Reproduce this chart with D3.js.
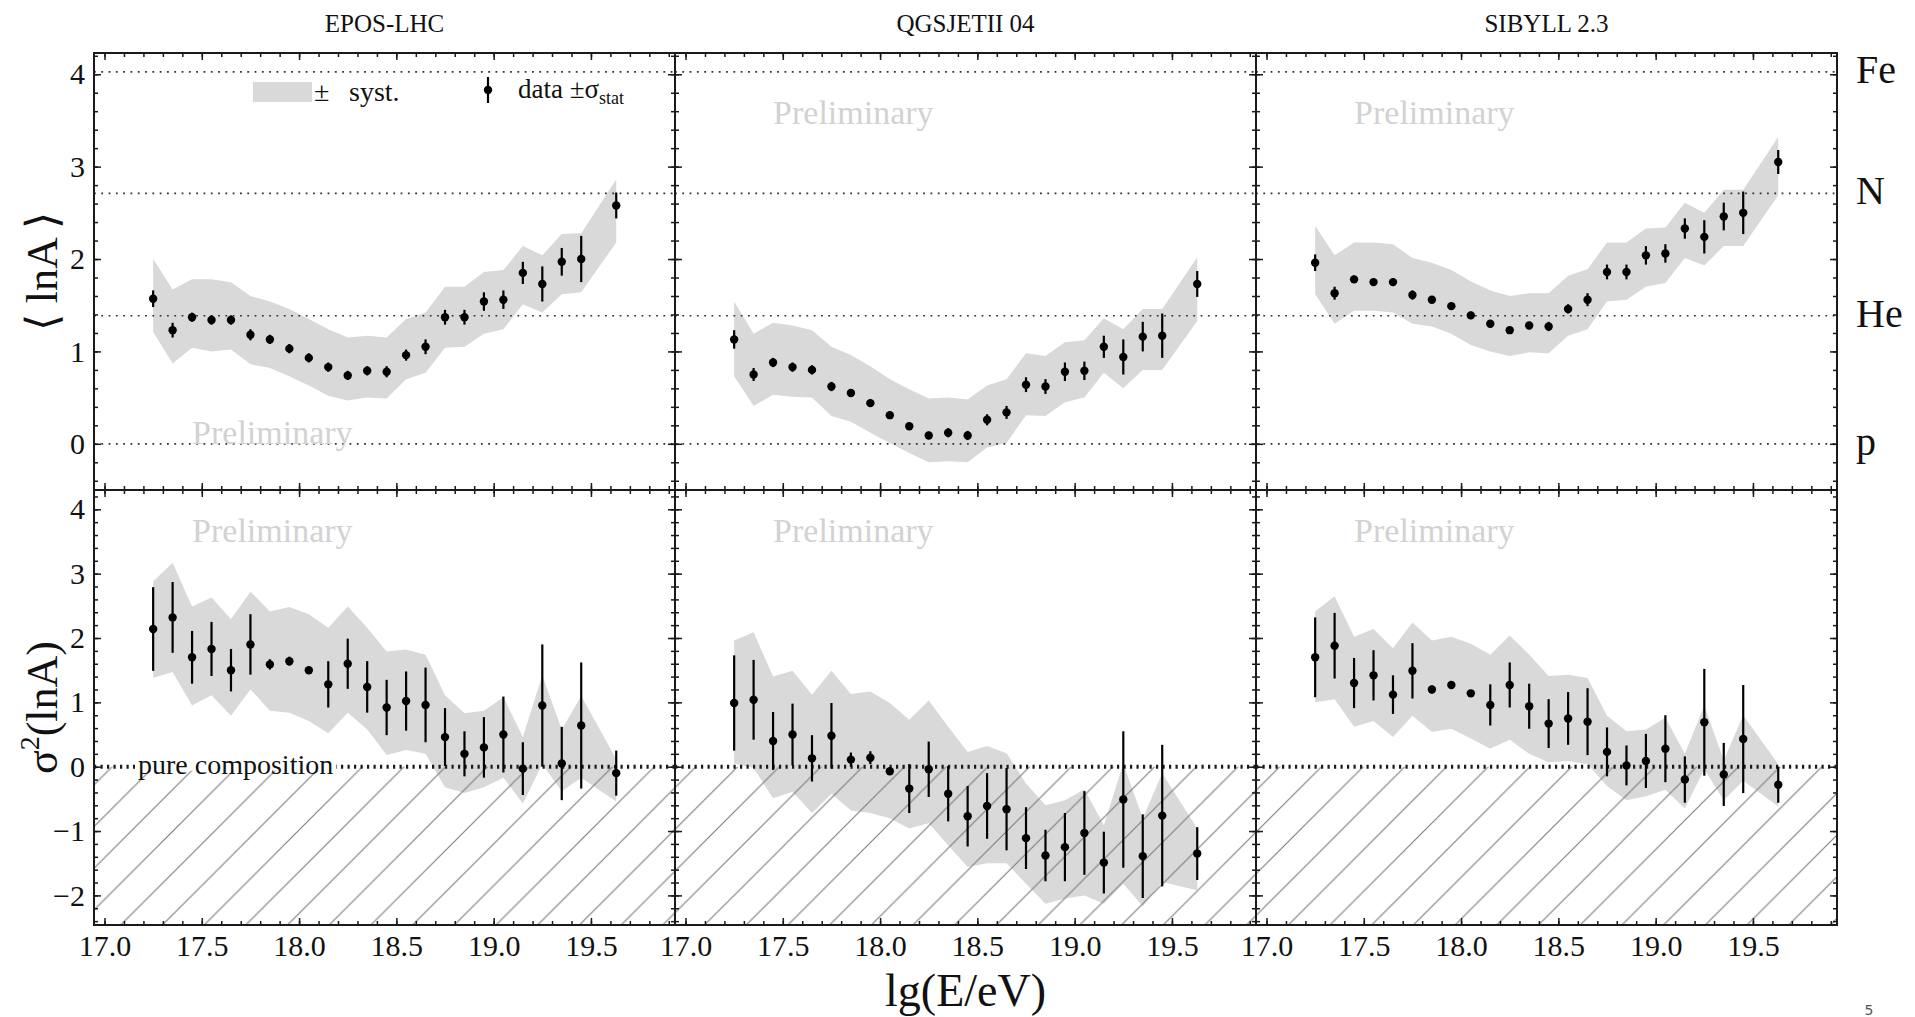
<!DOCTYPE html>
<html>
<head>
<meta charset="utf-8">
<script src="https://cdn.jsdelivr.net/npm/d3@7"></script>
<style>
  body { margin: 0; background: #fff; }
  svg text { font-family: "Liberation Serif", "Times New Roman", serif; fill: #111; }
</style>
</head>
<body>
<script>
    // Data: energy bins (lg(E/eV))
    let lgE = [17.25, 17.35, 17.45, 17.55, 17.65, 17.75, 17.85, 17.95, 18.05, 18.15, 18.25, 18.35,
               18.45, 18.55, 18.65, 18.75, 18.85, 18.95, 19.05, 19.15, 19.25, 19.35, 19.45, 19.63];
    let models = ["EPOS-LHC", "QGSJETII 04", "SIBYLL 2.3"];

    // <lnA> : EPOS-LHC
    let eposLnA     = [1.57, 1.23, 1.37, 1.34, 1.34, 1.18, 1.13, 1.03, 0.93, 0.83, 0.74, 0.79, 0.78, 0.96, 1.05, 1.37, 1.37, 1.54, 1.56, 1.85, 1.73, 1.97, 2.00, 2.58];
    let eposLnAStat = [0.09, 0.08, 0.05, 0.05, 0.05, 0.06, 0.05, 0.05, 0.05, 0.05, 0.05, 0.05, 0.06, 0.06, 0.08, 0.08, 0.08, 0.10, 0.10, 0.12, 0.19, 0.15, 0.25, 0.14];
    let eposLnAHi   = [2.00, 1.67, 1.78, 1.78, 1.75, 1.60, 1.54, 1.46, 1.35, 1.24, 1.15, 1.17, 1.15, 1.35, 1.42, 1.70, 1.70, 1.86, 1.88, 2.14, 2.04, 2.27, 2.28, 2.86];
    let eposLnALo   = [1.21, 0.87, 1.04, 1.00, 1.02, 0.86, 0.82, 0.73, 0.63, 0.52, 0.47, 0.50, 0.49, 0.70, 0.77, 1.04, 1.05, 1.19, 1.24, 1.51, 1.42, 1.62, 1.64, 2.18];
    // <lnA> : QGSJETII 04
    let qgsLnA      = [1.13, 0.75, 0.88, 0.83, 0.80, 0.62, 0.55, 0.44, 0.31, 0.19, 0.09, 0.12, 0.09, 0.26, 0.34, 0.64, 0.62, 0.78, 0.79, 1.05, 0.94, 1.16, 1.17, 1.73];
    let qgsLnAStat  = [0.10, 0.07, 0.05, 0.05, 0.05, 0.05, 0.04, 0.04, 0.04, 0.04, 0.04, 0.05, 0.05, 0.06, 0.07, 0.08, 0.08, 0.10, 0.10, 0.12, 0.19, 0.16, 0.24, 0.14];
    let qgsLnAHi    = [1.54, 1.19, 1.31, 1.28, 1.23, 1.05, 0.96, 0.84, 0.70, 0.59, 0.49, 0.50, 0.48, 0.63, 0.70, 0.98, 0.95, 1.10, 1.12, 1.36, 1.24, 1.46, 1.46, 2.02];
    let qgsLnALo    = [0.73, 0.41, 0.53, 0.51, 0.50, 0.30, 0.24, 0.12, 0.01, -0.10, -0.20, -0.19, -0.20, -0.04, 0.01, 0.31, 0.30, 0.45, 0.50, 0.77, 0.60, 0.80, 0.80, 1.33];
    // <lnA> : SIBYLL 2.3
    let sibLnA      = [1.96, 1.63, 1.78, 1.75, 1.75, 1.61, 1.56, 1.49, 1.39, 1.30, 1.23, 1.28, 1.27, 1.46, 1.56, 1.86, 1.86, 2.04, 2.06, 2.33, 2.24, 2.46, 2.50, 3.05];
    let sibLnAStat  = [0.09, 0.07, 0.04, 0.04, 0.04, 0.05, 0.04, 0.04, 0.04, 0.04, 0.04, 0.04, 0.05, 0.05, 0.07, 0.08, 0.08, 0.10, 0.10, 0.11, 0.18, 0.15, 0.23, 0.13];
    let sibLnAHi    = [2.36, 2.04, 2.18, 2.18, 2.16, 2.01, 1.96, 1.88, 1.76, 1.66, 1.60, 1.63, 1.63, 1.82, 1.89, 2.18, 2.18, 2.33, 2.34, 2.61, 2.50, 2.75, 2.75, 3.32];
    let sibLnALo    = [1.62, 1.30, 1.44, 1.44, 1.42, 1.30, 1.27, 1.19, 1.07, 1.00, 0.95, 0.99, 0.98, 1.17, 1.24, 1.54, 1.56, 1.70, 1.74, 2.01, 1.93, 2.14, 2.14, 2.69];

    // sigma^2(lnA) : EPOS-LHC
    let eposVar     = [2.14, 2.32, 1.70, 1.83, 1.50, 1.90, 1.59, 1.64, 1.50, 1.28, 1.60, 1.24, 0.92, 1.02, 0.96, 0.46, 0.20, 0.30, 0.50, -0.03, 0.95, 0.05, 0.64, -0.10];
    let eposVarStat = [0.65, 0.55, 0.41, 0.42, 0.33, 0.47, 0.08, 0.07, 0.04, 0.36, 0.39, 0.40, 0.43, 0.46, 0.58, 0.45, 0.35, 0.47, 0.59, 0.41, 0.95, 0.57, 0.98, 0.35];
    let eposVarHi   = [2.88, 3.17, 2.49, 2.63, 2.29, 2.72, 2.41, 2.48, 2.37, 2.16, 2.49, 2.16, 1.79, 1.82, 1.74, 1.11, 0.83, 0.87, 1.08, 0.46, 1.42, 0.58, 1.10, 0.12];
    let eposVarLo   = [1.38, 1.47, 0.95, 1.11, 0.79, 1.20, 0.87, 0.84, 0.71, 0.52, 0.84, 0.58, 0.18, 0.26, 0.20, -0.32, -0.41, -0.32, -0.17, -0.57, 0.04, -0.38, -0.17, -0.54];
    // sigma^2(lnA) : QGSJETII 04
    let qgsVar      = [0.99, 1.04, 0.40, 0.50, 0.13, 0.48, 0.11, 0.14, -0.07, -0.34, -0.04, -0.42, -0.77, -0.61, -0.66, -1.11, -1.38, -1.25, -1.03, -1.49, -0.51, -1.39, -0.76, -1.35];
    let qgsVarStat  = [0.74, 0.62, 0.45, 0.48, 0.36, 0.51, 0.11, 0.10, 0.03, 0.38, 0.43, 0.43, 0.47, 0.51, 0.64, 0.48, 0.40, 0.53, 0.65, 0.48, 1.06, 0.65, 1.10, 0.41];
    let qgsVarHi    = [1.96, 2.09, 1.40, 1.49, 1.12, 1.49, 1.13, 1.17, 0.99, 0.73, 1.03, 0.62, 0.23, 0.32, 0.21, -0.26, -0.60, -0.52, -0.35, -0.91, 0.05, -0.80, -0.10, -0.96];
    let qgsVarLo    = [0.05, -0.02, -0.49, -0.39, -0.72, -0.42, -0.68, -0.72, -0.80, -0.96, -0.88, -1.22, -1.56, -1.50, -1.50, -1.82, -2.13, -2.05, -2.00, -2.13, -1.82, -2.17, -1.79, -1.92];
    // sigma^2(lnA) : SIBYLL 2.3
    let sibVar      = [1.70, 1.88, 1.30, 1.42, 1.12, 1.49, 1.20, 1.27, 1.14, 0.96, 1.27, 0.94, 0.67, 0.75, 0.70, 0.23, 0.02, 0.09, 0.28, -0.20, 0.69, -0.12, 0.43, -0.28];
    let sibVarStat  = [0.62, 0.51, 0.39, 0.39, 0.30, 0.43, 0.06, 0.06, 0.03, 0.32, 0.35, 0.35, 0.38, 0.41, 0.52, 0.38, 0.31, 0.42, 0.52, 0.36, 0.83, 0.49, 0.84, 0.28];
    let sibVarHi    = [2.41, 2.65, 2.02, 2.14, 1.84, 2.24, 1.96, 2.02, 1.91, 1.74, 2.04, 1.74, 1.41, 1.43, 1.38, 0.79, 0.55, 0.58, 0.76, 0.20, 0.95, 0.10, 0.80, 0.04];
    let sibVarLo    = [1.00, 1.05, 0.62, 0.71, 0.46, 0.79, 0.54, 0.59, 0.44, 0.28, 0.42, 0.20, 0.07, 0.09, 0.04, -0.30, -0.52, -0.46, -0.36, -0.65, -0.04, -0.52, -0.22, -0.62];

    // Reference lines for pure compositions
    let elements = ["p", "He", "N", "Fe"];
    let elementLnA = [0, 1.386, 2.71, 4.025];

    // Tick labels
    let xMajorTicks = [17.0, 17.5, 18.0, 18.5, 19.0, 19.5];
    let yUpperTicks = [0, 1, 2, 3, 4];
    let yLowerTicks = [-2, -1, 0, 1, 2, 3, 4];

    // Layout
    let left = 94, panelW = 581;
    let upperTop = 53, midY = 490, lowerBottom = 925;
    let bandColor = "#d9d9d9";
    let ink = "#1a1a1a";
    let serif = "'Liberation Serif', 'Times New Roman', serif";

    let svg = d3.select("body")
        .append("svg")
        .attr("width", 1915)
        .attr("height", 1017);

    let yUpper = d3.scaleLinear().domain([-0.5, 4.23]).range([midY, upperTop]);
    let yLower = d3.scaleLinear().domain([-2.46, 4.30]).range([lowerBottom, midY]);

    // hatch pattern for the unphysical region sigma^2 < 0
    let hs = 41.7;
    svg.append("defs").append("pattern")
        .attr("id", "hatch")
        .attr("patternUnits", "userSpaceOnUse")
        .attr("x", 3.2)
        .attr("width", hs)
        .attr("height", hs)
        .append("path")
        .attr("d", `M0,${hs}L${hs},0M${-hs / 2},${hs / 2}L${hs / 2},${-hs / 2}M${hs / 2},${1.5 * hs}L${1.5 * hs},${hs / 2}`)
        .attr("stroke", "#7a7a7a")
        .attr("stroke-width", 1.1);

    let meanSets = [
        [eposLnA, eposLnAStat, eposLnAHi, eposLnALo],
        [qgsLnA, qgsLnAStat, qgsLnAHi, qgsLnALo],
        [sibLnA, sibLnAStat, sibLnAHi, sibLnALo]
    ];
    let varSets = [
        [eposVar, eposVarStat, eposVarHi, eposVarLo],
        [qgsVar, qgsVarStat, qgsVarHi, qgsVarLo],
        [sibVar, sibVarStat, sibVarHi, sibVarLo]
    ];

    function styleAxis(g) {
        g.select(".domain").remove();
        g.selectAll("line").attr("stroke", ink).attr("stroke-width", 1.5);
        g.attr("font-family", null).attr("font-size", null);
        g.selectAll("text")
            .style("font-family", serif)
            .style("font-size", "30px")
            .style("fill", "#111");
    }

    function drawFrame(g, x, y, x0, top, bottom, showX, showY, yMajor, yMinor) {
        let xMinor = d3.range(17.0, 19.95, 0.1);
        // minor ticks
        g.append("g").attr("transform", `translate(0,${bottom})`)
            .call(d3.axisBottom(x).tickValues(xMinor).tickSize(-4).tickFormat("")).call(styleAxis);
        g.append("g").attr("transform", `translate(0,${top})`)
            .call(d3.axisTop(x).tickValues(xMinor).tickSize(-4).tickFormat("")).call(styleAxis);
        g.append("g").attr("transform", `translate(${x0},0)`)
            .call(d3.axisLeft(y).tickValues(yMinor).tickSize(-4).tickFormat("")).call(styleAxis);
        g.append("g").attr("transform", `translate(${x0 + panelW},0)`)
            .call(d3.axisRight(y).tickValues(yMinor).tickSize(-4).tickFormat("")).call(styleAxis);
        // major ticks
        g.append("g").attr("transform", `translate(0,${bottom})`)
            .call(d3.axisBottom(x).tickValues(xMajorTicks).tickSize(-7).tickPadding(10)
                .tickFormat(showX ? d3.format(".1f") : "")).call(styleAxis);
        g.append("g").attr("transform", `translate(0,${top})`)
            .call(d3.axisTop(x).tickValues(xMajorTicks).tickSize(-7).tickFormat("")).call(styleAxis);
        g.append("g").attr("transform", `translate(${x0},0)`)
            .call(d3.axisLeft(y).tickValues(yMajor).tickSize(-7).tickPadding(9)
                .tickFormat(showY ? d3.format("d") : "")).call(styleAxis);
        g.append("g").attr("transform", `translate(${x0 + panelW},0)`)
            .call(d3.axisRight(y).tickValues(yMajor).tickSize(-7).tickFormat("")).call(styleAxis);
        g.append("rect")
            .attr("x", x0).attr("y", top)
            .attr("width", panelW).attr("height", bottom - top)
            .attr("fill", "none").attr("stroke", ink).attr("stroke-width", 2);
    }

    function toRows(set) {
        return lgE.map((e, k) => ({ e: e, v: set[0][k], s: set[1][k], hi: set[2][k], lo: set[3][k] }));
    }

    models.forEach((name, i) => {
        let x0 = left + i * panelW;
        let x = d3.scaleLinear().domain([16.946, 19.932]).range([x0, x0 + panelW]);
        let g = svg.append("g");

        let meanRows = toRows(meanSets[i]);
        let varRows = toRows(varSets[i]);

        // systematic bands
        g.append("path").datum(meanRows)
            .attr("fill", bandColor)
            .attr("d", d3.area().x(d => x(d.e)).y0(d => yUpper(d.lo)).y1(d => yUpper(d.hi)));
        g.append("path").datum(varRows)
            .attr("fill", bandColor)
            .attr("d", d3.area().x(d => x(d.e)).y0(d => yLower(d.lo)).y1(d => yLower(d.hi)));

        // hatched region sigma^2 < 0
        g.append("rect")
            .attr("x", x0).attr("y", yLower(0))
            .attr("width", panelW).attr("height", lowerBottom - yLower(0))
            .attr("fill", "url(#hatch)");

        // element reference lines
        g.selectAll(".elem").data(elementLnA).join("line")
            .attr("x1", x0).attr("x2", x0 + panelW)
            .attr("y1", d => yUpper(d)).attr("y2", d => yUpper(d))
            .attr("stroke", "#333").attr("stroke-width", 1.7)
            .attr("stroke-dasharray", "1.8,5.5");

        // pure composition line
        g.append("line")
            .attr("x1", x0).attr("x2", x0 + panelW)
            .attr("y1", yLower(0)).attr("y2", yLower(0))
            .attr("stroke", ink).attr("stroke-width", 4)
            .attr("stroke-dasharray", "2.2,4.3");

        // Preliminary watermarks
        g.append("text")
            .attr("x", x(17.45)).attr("y", yUpper(i === 0 ? 0 : 3.46))
            .attr("font-size", 34).style("fill", "#d2d2d2")
            .text("Preliminary");
        g.append("text")
            .attr("x", x(17.45)).attr("y", yLower(3.49))
            .attr("font-size", 34).style("fill", "#d2d2d2")
            .text("Preliminary");

        // data points with statistical errors
        [[meanRows, yUpper], [varRows, yLower]].forEach(([rows, y]) => {
            g.selectAll(null).data(rows).join("line")
                .attr("x1", d => x(d.e)).attr("x2", d => x(d.e))
                .attr("y1", d => y(d.v - d.s)).attr("y2", d => y(d.v + d.s))
                .attr("stroke", "#000").attr("stroke-width", 2.2);
            g.selectAll(null).data(rows).join("circle")
                .attr("cx", d => x(d.e)).attr("cy", d => y(d.v))
                .attr("r", 4.2).attr("fill", "#000");
        });

        if (i === 0) {
            // label on the pure composition line
            let t = g.append("text")
                .attr("x", 138).attr("y", yLower(0) + 7)
                .attr("font-size", 28)
                .text("pure composition");
            let bb = t.node().getBBox();
            g.insert("rect", "text")
                .attr("x", bb.x - 3).attr("y", yLower(0) - 4)
                .attr("width", bb.width + 6).attr("height", 8)
                .attr("fill", "#fff");
        }

        drawFrame(g, x, yUpper, x0, upperTop, midY, false, i === 0, yUpperTicks, d3.range(-0.4, 4.21, 0.2));
        drawFrame(g, x, yLower, x0, midY, lowerBottom, true, i === 0, yLowerTicks, d3.range(-2.4, 4.21, 0.2));

        // model title
        svg.append("text")
            .attr("x", x0 + panelW / 2).attr("y", 32)
            .attr("text-anchor", "middle")
            .attr("font-size", 25)
            .text(name);
    });

    // element labels on the right
    svg.selectAll(".elemLabel").data(elements).join("text")
        .attr("x", 1856)
        .attr("y", (d, k) => yUpper(elementLnA[k]) + 11)
        .attr("font-size", 40)
        .text(d => d);

    // legend
    let lg = svg.append("g");
    lg.append("rect").attr("x", 253).attr("y", 82).attr("width", 59).attr("height", 20).attr("fill", bandColor);
    lg.append("text").attr("x", 314).attr("y", 101).attr("font-size", 28).text("\u00b1");
    lg.append("text").attr("x", 349).attr("y", 101).attr("font-size", 28).text("syst.");
    lg.append("line").attr("x1", 488).attr("x2", 488).attr("y1", 77).attr("y2", 103)
        .attr("stroke", "#000").attr("stroke-width", 2.2);
    lg.append("circle").attr("cx", 488).attr("cy", 90).attr("r", 4.2).attr("fill", "#000");
    let lt = lg.append("text").attr("x", 518).attr("y", 98).attr("font-size", 27);
    lt.append("tspan").text("data \u00b1\u03c3");
    lt.append("tspan").attr("font-size", 18).attr("dy", 6).text("stat");

    // axis titles
    svg.append("text")
        .attr("transform", `translate(57,${(upperTop + midY) / 2}) rotate(-90)`)
        .attr("text-anchor", "middle")
        .attr("font-size", 44)
        .text("\u27e8 lnA \u27e9");
    let yl = svg.append("text")
        .attr("transform", `translate(57,${(midY + lowerBottom) / 2}) rotate(-90)`)
        .attr("text-anchor", "middle")
        .attr("font-size", 44);
    yl.append("tspan").text("\u03c3");
    yl.append("tspan").attr("font-size", 28).attr("dy", -18).text("2");
    yl.append("tspan").attr("dy", 18).text("(lnA)");

    svg.append("text")
        .attr("x", left + 1.5 * panelW).attr("y", 1006)
        .attr("text-anchor", "middle")
        .attr("font-size", 46)
        .text("lg(E/eV)");

    // slide number
    svg.append("text")
        .attr("x", 1869).attr("y", 1015)
        .attr("text-anchor", "middle")
        .attr("font-size", 14)
        .style("font-family", "'DejaVu Sans', sans-serif")
        .style("fill", "#555")
        .text("5");
</script>
</body>
</html>
